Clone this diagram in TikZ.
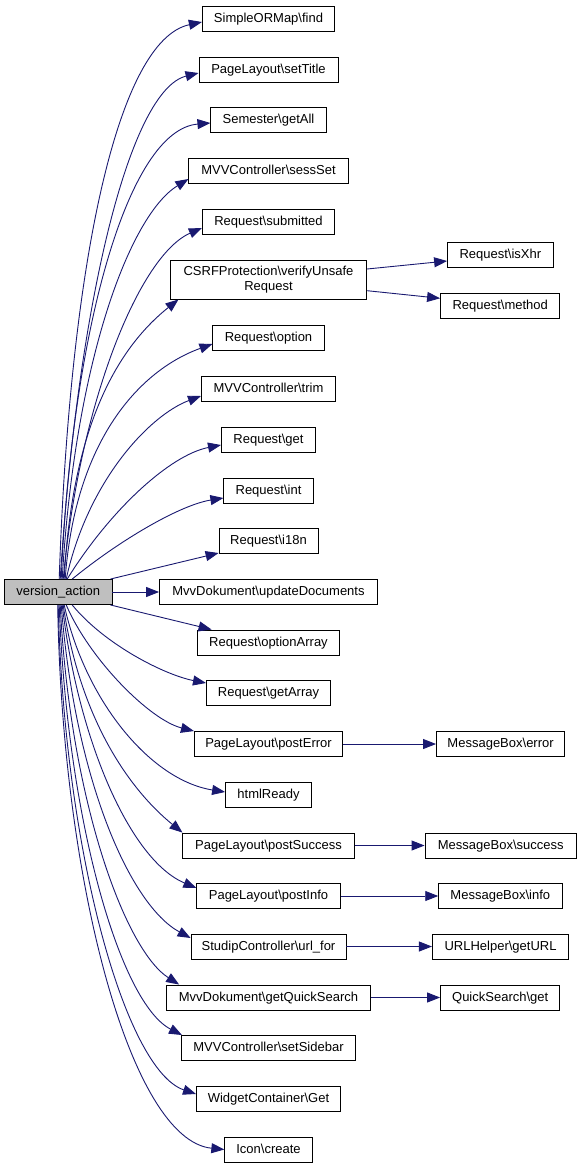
\documentclass[tikz,border=0pt]{standalone}
\usepackage{fontspec}
\setmainfont{Liberation Sans}
\usetikzlibrary{arrows.meta,calc}
\definecolor{edgeblue}{RGB}{25,25,112}
\definecolor{vafill}{RGB}{191,191,191}
\begin{document}
\begin{tikzpicture}[x=1pt,y=-1pt,
  box/.style={draw=black, line width=0.9pt, fill=white, minimum height=25pt,
    inner xsep=0pt, inner ysep=0pt, text height=9.5pt, text depth=2pt,
    font=\fontsize{13}{15}\selectfont},
  box2/.style={draw=black, line width=0.9pt, fill=white, minimum height=39pt,
    inner xsep=0pt, inner ysep=0pt, align=center,
    font=\fontsize{13}{15}\selectfont},
  edge/.style={draw=edgeblue, line width=0.9pt, -{Triangle[length=13pt,width=10pt]}}]
\useasboundingbox (0,0) rectangle (581,1168);
% main node
\node[box, fill=vafill, minimum width=107.5pt] (va) at (58.2,592) {version\_action};
% first column
\node[box, minimum width=132.3pt] (find) at (268.5,18.5) {SimpleORMap\textbackslash find};
\node[box, minimum width=139pt] (settitle) at (268.5,69.5) {PageLayout\textbackslash setTitle};
\node[box, minimum width=115.2pt] (getall) at (268.5,120) {Semester\textbackslash getAll};
\node[box, minimum width=159.3pt] (sessset) at (268.5,170.5) {MVVController\textbackslash sessSet};
\node[box, minimum width=132.3pt] (submitted) at (268.5,221.5) {Request\textbackslash submitted};
\node[box2, minimum width=196.4pt] (csrf) at (268.5,279.5) {CSRFProtection\textbackslash verifyUnsafe\\Request};
\node[box, minimum width=111.2pt] (option) at (268.5,338) {Request\textbackslash option};
\node[box, minimum width=134.1pt] (trim) at (268.5,389) {MVVController\textbackslash trim};
\node[box, minimum width=94.1pt] (get) at (268.5,440) {Request\textbackslash get};
\node[box, minimum width=89.3pt] (int) at (268.5,490.5) {Request\textbackslash int};
\node[box, minimum width=98.9pt] (i18n) at (268.5,541) {Request\textbackslash i18n};
\node[box, minimum width=217.9pt] (upd) at (268.5,592) {MvvDokument\textbackslash updateDocuments};
\node[box, minimum width=141.9pt] (optarr) at (268.5,642.5) {Request\textbackslash optionArray};
\node[box, minimum width=124.1pt] (getarr) at (268.5,693) {Request\textbackslash getArray};
\node[box, minimum width=148.2pt] (perr) at (268.5,744) {PageLayout\textbackslash postError};
\node[box, minimum width=85.9pt] (html) at (268.5,794.5) {htmlReady};
\node[box, minimum width=171.2pt] (psucc) at (268.5,845.5) {PageLayout\textbackslash postSuccess};
\node[box, minimum width=143.4pt] (pinfo) at (268.5,896) {PageLayout\textbackslash postInfo};
\node[box, minimum width=154.9pt] (urlfor) at (268.5,946.5) {StudipController\textbackslash url\_for};
\node[box, minimum width=203.8pt] (gqs) at (268.5,997.5) {MvvDokument\textbackslash getQuickSearch};
\node[box, minimum width=174.1pt] (sidebar) at (268.5,1048) {MVVController\textbackslash setSidebar};
\node[box, minimum width=144.1pt] (widget) at (268.5,1098.5) {WidgetContainer\textbackslash Get};
\node[box, minimum width=87.4pt] (icon) at (268.5,1149.5) {Icon\textbackslash create};
% second column
\node[box, minimum width=105.6pt] (isxhr) at (500.4,254.5) {Request\textbackslash isXhr};
\node[box, minimum width=119.3pt] (method) at (500.2,305.5) {Request\textbackslash method};
\node[box, minimum width=128.2pt] (merr) at (500.6,744) {MessageBox\textbackslash error};
\node[box, minimum width=151.5pt] (msucc) at (500.75,845.5) {MessageBox\textbackslash success};
\node[box, minimum width=123.3pt] (minfo) at (500.35,896) {MessageBox\textbackslash info};
\node[box, minimum width=136.3pt] (geturl) at (500.55,946.5) {URLHelper\textbackslash getURL};
\node[box, minimum width=119.3pt] (qsget) at (500.2,997.5) {QuickSearch\textbackslash get};
% upward edges
\draw[edge] ($(va.north)+(1,0)$) .. controls (70,260) and (118,40) .. ($(find.west)+(0,3.5)$);
\draw[edge] ($(va.north)+(2,0)$) .. controls (78,300) and (130,90) .. ($(settitle.west)+(0,3.5)$);
\draw[edge] ($(va.north)+(3,0)$) .. controls (72,330) and (128,130) .. ($(getall.west)+(0,3)$);
\draw[edge] ($(va.north)+(4,0)$) .. controls (75,360) and (130,215) .. ($(sessset.west)+(0,8.5)$);
\draw[edge] ($(va.north)+(5,0)$) .. controls (80,400) and (140,255) .. ($(submitted.west)+(0,6.5)$);
\draw[edge] ($(va.north)+(6,0)$) .. controls (72,430) and (115,350) .. ($(csrf.south west)+(8.6,0)$);
\draw[edge] ($(va.north)+(7,0)$) .. controls (75,440) and (140,370) .. ($(option.west)+(0,6)$);
\draw[edge] ($(va.north)+(8,0)$) .. controls (88,480) and (150,415) .. ($(trim.west)+(0,7)$);
\draw[edge] ($(va.north)+(9,0)$) .. controls (110,510) and (170,455) .. ($(get.west)+(0,5)$);
\draw[edge] ($(va.north)+(14,0)$) .. controls (120,540) and (180,505) .. ($(int.west)+(0,7.5)$);
\draw[edge] ($(va.north east)+(-2,0)$) -- ($(i18n.west)+(0,12)$);
\draw[edge] (va.east) -- (upd.west);
% downward edges
\draw[edge] ($(va.south east)+(-2,0)$) -- ($(optarr.north west)+(14.5,0)$);
\draw[edge] ($(va.south)+(14,0)$) .. controls (105,645) and (165,675) .. ($(getarr.west)+(0,-10)$);
\draw[edge] ($(va.south)+(8,0)$) .. controls (90,660) and (150,720) .. (perr.north west);
\draw[edge] ($(va.south)+(6,0)$) .. controls (85,700) and (150,780) .. ($(html.west)+(0,-2.5)$);
\draw[edge] ($(va.south)+(5,0)$) .. controls (80,720) and (130,790) .. (psucc.north west);
\draw[edge] ($(va.south)+(4,0)$) .. controls (78,740) and (130,860) .. ($(pinfo.west)+(0,-8)$);
\draw[edge] ($(va.south)+(3,0)$) .. controls (75,780) and (130,905) .. ($(urlfor.west)+(0,-8.5)$);
\draw[edge] ($(va.south)+(2,0)$) .. controls (70,800) and (125,950) .. ($(gqs.north west)+(13,0)$);
\draw[edge] ($(va.south)+(1,0)$) .. controls (67,820) and (120,1003) .. ($(sidebar.north west)+(1,0)$);
\draw[edge] ($(va.south)+(0,0)$) .. controls (64,850) and (125,1070) .. ($(widget.west)+(0,-4.5)$);
\draw[edge] ($(va.south)+(-0.5,0)$) .. controls (62,880) and (130,1140) .. (icon.west);
% second-level edges
\draw[edge] ($(csrf.east)+(0,-10.5)$) -- ($(isxhr.west)+(0,6.5)$);
\draw[edge] ($(csrf.east)+(0,11.2)$) -- ($(method.west)+(0,-7.2)$);
\draw[edge] (perr.east) -- (merr.west);
\draw[edge] (psucc.east) -- (msucc.west);
\draw[edge] (pinfo.east) -- (minfo.west);
\draw[edge] (urlfor.east) -- (geturl.west);
\draw[edge] (gqs.east) -- (qsget.west);
\end{tikzpicture}
\end{document}
